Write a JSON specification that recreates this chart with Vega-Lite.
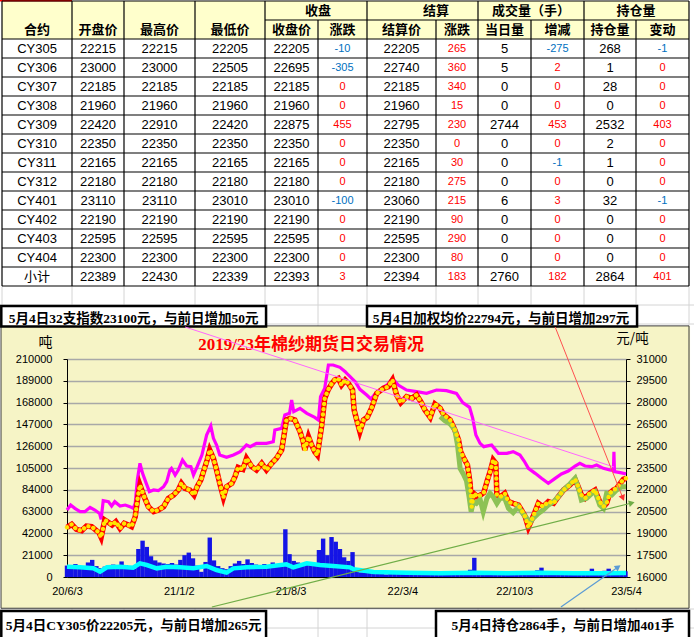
{
"$schema":"https://vega.github.io/schema/vega-lite/v6.json",
"width":559,"height":218,
"autosize":{"type":"none"},
"padding":{"left":67,"top":359,"right":68,"bottom":60},
"background":"#F6F4C6",
"config":{"view":{"stroke":null}},
"datasets":{
"idx":[{"date":"2020-06-03","p":20608},{"date":"2020-06-10","p":20952},{"date":"2020-06-18","p":20723},{"date":"2020-06-28","p":20494},{"date":"2020-07-07","p":20494},{"date":"2020-07-17","p":20792},{"date":"2020-07-26","p":20608},{"date":"2020-08-04","p":20379},{"date":"2020-08-07","p":19966},{"date":"2020-08-11","p":21251},{"date":"2020-08-21","p":21182},{"date":"2020-08-27","p":20884},{"date":"2020-09-02","p":21182},{"date":"2020-09-12","p":20884},{"date":"2020-09-22","p":20952},{"date":"2020-10-01","p":20838},{"date":"2020-10-07","p":20723},{"date":"2020-10-11","p":21067},{"date":"2020-10-15","p":22673},{"date":"2020-10-20","p":23820},{"date":"2020-10-25","p":23132},{"date":"2020-11-01","p":22444},{"date":"2020-11-07","p":21870},{"date":"2020-11-15","p":21985},{"date":"2020-11-24","p":21939},{"date":"2020-12-04","p":22214},{"date":"2020-12-10","p":22558},{"date":"2020-12-16","p":23361},{"date":"2020-12-19","p":23476},{"date":"2020-12-26","p":23017},{"date":"2021-01-01","p":23361},{"date":"2021-01-09","p":24050},{"date":"2021-01-17","p":23637},{"date":"2021-01-25","p":23591},{"date":"2021-01-30","p":23017},{"date":"2021-02-06","p":23591},{"date":"2021-02-15","p":24394},{"date":"2021-02-24","p":25770},{"date":"2021-03-04","p":26389},{"date":"2021-03-09","p":25540},{"date":"2021-03-15","p":25082},{"date":"2021-03-21","p":24394},{"date":"2021-04-03","p":24233},{"date":"2021-04-16","p":24394},{"date":"2021-04-29","p":24623},{"date":"2021-05-11","p":25082},{"date":"2021-05-18","p":24967},{"date":"2021-05-30","p":25197},{"date":"2021-06-18","p":25197},{"date":"2021-07-01","p":25311},{"date":"2021-07-04","p":26114},{"date":"2021-07-17","p":26229},{"date":"2021-07-23","p":27146},{"date":"2021-08-01","p":27261},{"date":"2021-08-05","p":28179},{"date":"2021-08-09","p":27376},{"date":"2021-08-21","p":27605},{"date":"2021-09-03","p":27261},{"date":"2021-09-18","p":26986},{"date":"2021-09-25","p":26802},{"date":"2021-09-29","p":28408},{"date":"2021-10-07","p":28982},{"date":"2021-10-14","p":30587},{"date":"2021-10-23","p":30587},{"date":"2021-11-05","p":30427},{"date":"2021-11-15","p":30129},{"date":"2021-11-21","p":29899},{"date":"2021-12-04","p":29440},{"date":"2021-12-13","p":28913},{"date":"2021-12-26","p":28523},{"date":"2022-01-03","p":28247},{"date":"2022-01-11","p":28592},{"date":"2022-01-24","p":28982},{"date":"2022-02-05","p":29280},{"date":"2022-02-13","p":29670},{"date":"2022-02-24","p":29211},{"date":"2022-03-12","p":28867},{"date":"2022-03-31","p":28752},{"date":"2022-04-19","p":28637},{"date":"2022-05-08","p":28867},{"date":"2022-05-27","p":28821},{"date":"2022-06-15","p":28637},{"date":"2022-06-27","p":27995},{"date":"2022-07-10","p":27674},{"date":"2022-07-16","p":26917},{"date":"2022-07-22","p":25770},{"date":"2022-07-30","p":25196},{"date":"2022-08-06","p":24967},{"date":"2022-08-21","p":25082},{"date":"2022-09-03","p":24508},{"date":"2022-09-19","p":24508},{"date":"2022-10-01","p":24623},{"date":"2022-10-14","p":24394},{"date":"2022-10-22","p":23981},{"date":"2022-10-30","p":23476},{"date":"2022-11-12","p":23132},{"date":"2022-11-24","p":22788},{"date":"2022-12-07","p":22444},{"date":"2022-12-20","p":22788},{"date":"2023-01-01","p":23086},{"date":"2023-01-14","p":23293},{"date":"2023-01-27","p":23636},{"date":"2023-02-05","p":23820},{"date":"2023-02-15","p":23636},{"date":"2023-02-28","p":23591},{"date":"2023-03-09","p":23706},{"date":"2023-03-22","p":23476},{"date":"2023-04-03","p":23361},{"date":"2023-04-10","p":23315},{"date":"2023-04-11","p":24623},{"date":"2023-04-12","p":23247},{"date":"2023-04-23","p":23178},{"date":"2023-05-04","p":23100}],
"px":[{"date":"2020-06-03","p":19416},{"date":"2020-06-12","p":19622},{"date":"2020-06-21","p":19278},{"date":"2020-07-01","p":19186},{"date":"2020-07-10","p":19507},{"date":"2020-07-20","p":19462},{"date":"2020-07-28","p":19232},{"date":"2020-08-03","p":19049},{"date":"2020-08-07","p":18728},{"date":"2020-08-14","p":19920},{"date":"2020-08-22","p":19737},{"date":"2020-08-28","p":19576},{"date":"2020-09-04","p":19805},{"date":"2020-09-12","p":19347},{"date":"2020-09-20","p":19691},{"date":"2020-09-28","p":19576},{"date":"2020-10-04","p":19462},{"date":"2020-10-11","p":20150},{"date":"2020-10-16","p":21526},{"date":"2020-10-20","p":22329},{"date":"2020-10-28","p":21526},{"date":"2020-11-05","p":20838},{"date":"2020-11-15","p":20494},{"date":"2020-11-24","p":20608},{"date":"2020-12-04","p":20838},{"date":"2020-12-13","p":21411},{"date":"2020-12-23","p":21641},{"date":"2021-01-01","p":21985},{"date":"2021-01-07","p":22444},{"date":"2021-01-14","p":22100},{"date":"2021-01-23","p":21985},{"date":"2021-01-31","p":21641},{"date":"2021-02-06","p":22214},{"date":"2021-02-13","p":22673},{"date":"2021-02-19","p":23361},{"date":"2021-02-25","p":24050},{"date":"2021-03-02","p":24738},{"date":"2021-03-09","p":24164},{"date":"2021-03-15","p":23361},{"date":"2021-03-21","p":22444},{"date":"2021-03-28","p":21480},{"date":"2021-04-03","p":22214},{"date":"2021-04-13","p":22444},{"date":"2021-04-19","p":22902},{"date":"2021-04-25","p":23545},{"date":"2021-05-04","p":23407},{"date":"2021-05-11","p":24164},{"date":"2021-05-21","p":23591},{"date":"2021-05-30","p":23361},{"date":"2021-06-09","p":23820},{"date":"2021-06-18","p":23361},{"date":"2021-06-28","p":23820},{"date":"2021-07-07","p":24164},{"date":"2021-07-17","p":24738},{"date":"2021-07-21","p":25655},{"date":"2021-07-26","p":26802},{"date":"2021-08-02","p":26917},{"date":"2021-08-11","p":26802},{"date":"2021-08-21","p":25999},{"date":"2021-08-27","p":25311},{"date":"2021-08-30","p":24738},{"date":"2021-09-06","p":25655},{"date":"2021-09-12","p":25082},{"date":"2021-09-18","p":24623},{"date":"2021-09-23","p":24394},{"date":"2021-10-01","p":26343},{"date":"2021-10-07","p":28293},{"date":"2021-10-14","p":28913},{"date":"2021-10-20","p":29280},{"date":"2021-10-26","p":29555},{"date":"2021-11-02","p":29670},{"date":"2021-11-08","p":29211},{"date":"2021-11-15","p":29555},{"date":"2021-11-21","p":29326},{"date":"2021-11-29","p":28867},{"date":"2021-12-02","p":27490},{"date":"2021-12-07","p":26802},{"date":"2021-12-13","p":25999},{"date":"2021-12-20","p":26802},{"date":"2021-12-27","p":26986},{"date":"2022-01-04","p":27605},{"date":"2022-01-14","p":28637},{"date":"2022-01-27","p":28982},{"date":"2022-02-05","p":29097},{"date":"2022-02-13","p":29555},{"date":"2022-02-21","p":28523},{"date":"2022-03-01","p":27995},{"date":"2022-03-12","p":28408},{"date":"2022-03-22","p":28293},{"date":"2022-03-31","p":28523},{"date":"2022-04-08","p":28064},{"date":"2022-04-16","p":27490},{"date":"2022-04-26","p":26986},{"date":"2022-05-05","p":27903},{"date":"2022-05-15","p":27605},{"date":"2022-05-22","p":27146},{"date":"2022-06-03","p":26802},{"date":"2022-06-12","p":26114},{"date":"2022-06-19","p":25426},{"date":"2022-06-23","p":24623},{"date":"2022-06-29","p":24164},{"date":"2022-07-06","p":23705},{"date":"2022-07-11","p":22444},{"date":"2022-07-14","p":20838},{"date":"2022-07-18","p":21755},{"date":"2022-07-25","p":21526},{"date":"2022-07-31","p":21641},{"date":"2022-08-06","p":21801},{"date":"2022-08-13","p":22673},{"date":"2022-08-19","p":23361},{"date":"2022-08-24","p":24050},{"date":"2022-08-29","p":23820},{"date":"2022-08-31","p":21641},{"date":"2022-09-07","p":21526},{"date":"2022-09-15","p":21755},{"date":"2022-09-22","p":21182},{"date":"2022-10-01","p":21067},{"date":"2022-10-11","p":20952},{"date":"2022-10-17","p":20608},{"date":"2022-10-24","p":20150},{"date":"2022-10-30","p":19416},{"date":"2022-11-08","p":20150},{"date":"2022-11-18","p":21067},{"date":"2022-11-27","p":20838},{"date":"2022-12-07","p":21182},{"date":"2022-12-17","p":21067},{"date":"2022-12-26","p":21526},{"date":"2023-01-05","p":21985},{"date":"2023-01-17","p":22329},{"date":"2023-01-27","p":22719},{"date":"2023-02-02","p":22214},{"date":"2023-02-08","p":21641},{"date":"2023-02-15","p":21411},{"date":"2023-02-24","p":21755},{"date":"2023-03-06","p":21985},{"date":"2023-03-15","p":21182},{"date":"2023-03-22","p":20838},{"date":"2023-03-28","p":21067},{"date":"2023-04-03","p":21755},{"date":"2023-04-10","p":21985},{"date":"2023-04-16","p":22100},{"date":"2023-04-23","p":22444},{"date":"2023-04-29","p":22719},{"date":"2023-05-04","p":22794}],
"cy":[{"date":"2022-05-15","p":27032},{"date":"2022-05-24","p":26756},{"date":"2022-06-03","p":26527},{"date":"2022-06-12","p":26114},{"date":"2022-06-17","p":25082},{"date":"2022-06-22","p":23476},{"date":"2022-06-28","p":23086},{"date":"2022-07-04","p":22627},{"date":"2022-07-09","p":21526},{"date":"2022-07-13","p":20494},{"date":"2022-07-17","p":21182},{"date":"2022-07-23","p":21067},{"date":"2022-07-30","p":21342},{"date":"2022-08-05","p":20494},{"date":"2022-08-12","p":21411},{"date":"2022-08-18","p":21755},{"date":"2022-08-24","p":21526},{"date":"2022-08-31","p":21067},{"date":"2022-09-06","p":21411},{"date":"2022-09-15","p":21411},{"date":"2022-09-22","p":20723},{"date":"2022-10-01","p":20425},{"date":"2022-10-11","p":20838},{"date":"2022-10-17","p":20494},{"date":"2022-10-27","p":20035},{"date":"2022-11-02","p":19737},{"date":"2022-11-08","p":20035},{"date":"2022-11-18","p":20379},{"date":"2022-11-27","p":20608},{"date":"2022-12-07","p":20952},{"date":"2022-12-17","p":21182},{"date":"2022-12-26","p":21526},{"date":"2023-01-05","p":21985},{"date":"2023-01-17","p":22398},{"date":"2023-01-27","p":22788},{"date":"2023-02-02","p":22169},{"date":"2023-02-08","p":21297},{"date":"2023-02-18","p":21411},{"date":"2023-02-28","p":21755},{"date":"2023-03-06","p":21870},{"date":"2023-03-15","p":20952},{"date":"2023-03-22","p":20723},{"date":"2023-03-28","p":21755},{"date":"2023-04-07","p":21641},{"date":"2023-04-16","p":21985},{"date":"2023-04-26","p":22214},{"date":"2023-05-04","p":22205}],
"vol":[{"date":"2020-06-03","v":11000},{"date":"2020-06-11","v":10000},{"date":"2020-06-19","v":12500},{"date":"2020-06-27","v":9000},{"date":"2020-07-05","v":9500},{"date":"2020-07-13","v":14000},{"date":"2020-07-21","v":16500},{"date":"2020-07-29","v":10500},{"date":"2020-08-06","v":8500},{"date":"2020-08-14","v":10000},{"date":"2020-08-22","v":11500},{"date":"2020-08-30","v":12000},{"date":"2020-09-07","v":11000},{"date":"2020-09-15","v":15000},{"date":"2020-09-23","v":11500},{"date":"2020-10-01","v":9500},{"date":"2020-10-09","v":8000},{"date":"2020-10-17","v":27000},{"date":"2020-10-25","v":35000},{"date":"2020-11-02","v":29000},{"date":"2020-11-10","v":20000},{"date":"2020-11-18","v":16000},{"date":"2020-11-26","v":14000},{"date":"2020-12-04","v":13000},{"date":"2020-12-12","v":12500},{"date":"2020-12-20","v":13500},{"date":"2020-12-28","v":12000},{"date":"2021-01-05","v":16500},{"date":"2021-01-13","v":21000},{"date":"2021-01-21","v":23500},{"date":"2021-01-29","v":18000},{"date":"2021-02-06","v":11000},{"date":"2021-02-14","v":5000},{"date":"2021-02-22","v":14500},{"date":"2021-03-02","v":38000},{"date":"2021-03-10","v":16000},{"date":"2021-03-18","v":10500},{"date":"2021-03-26","v":8500},{"date":"2021-04-03","v":7500},{"date":"2021-04-11","v":10500},{"date":"2021-04-19","v":13000},{"date":"2021-04-27","v":15500},{"date":"2021-05-05","v":12500},{"date":"2021-05-13","v":17000},{"date":"2021-05-21","v":13500},{"date":"2021-05-29","v":12000},{"date":"2021-06-06","v":11500},{"date":"2021-06-14","v":12500},{"date":"2021-06-22","v":11500},{"date":"2021-06-30","v":14000},{"date":"2021-07-08","v":12500},{"date":"2021-07-16","v":13000},{"date":"2021-07-24","v":46000},{"date":"2021-08-01","v":22000},{"date":"2021-08-09","v":15500},{"date":"2021-08-17","v":14000},{"date":"2021-08-25","v":12500},{"date":"2021-09-02","v":14500},{"date":"2021-09-10","v":13000},{"date":"2021-09-18","v":11500},{"date":"2021-09-26","v":26000},{"date":"2021-10-04","v":37000},{"date":"2021-10-12","v":21000},{"date":"2021-10-20","v":38500},{"date":"2021-10-28","v":34000},{"date":"2021-11-05","v":27000},{"date":"2021-11-13","v":19000},{"date":"2021-11-21","v":15500},{"date":"2021-11-29","v":24000},{"date":"2021-12-07","v":6000},{"date":"2021-12-15","v":4500},{"date":"2021-12-23","v":4000},{"date":"2021-12-31","v":4500},{"date":"2022-01-08","v":3500},{"date":"2022-01-16","v":4000},{"date":"2022-01-24","v":3000},{"date":"2022-02-01","v":2500},{"date":"2022-02-09","v":3500},{"date":"2022-02-17","v":4500},{"date":"2022-02-25","v":4000},{"date":"2022-03-05","v":3500},{"date":"2022-03-13","v":4000},{"date":"2022-03-21","v":3500},{"date":"2022-03-29","v":3000},{"date":"2022-04-06","v":3500},{"date":"2022-04-14","v":4000},{"date":"2022-04-22","v":3500},{"date":"2022-04-30","v":3000},{"date":"2022-05-08","v":3500},{"date":"2022-05-16","v":4000},{"date":"2022-05-24","v":4500},{"date":"2022-06-01","v":4000},{"date":"2022-06-09","v":3500},{"date":"2022-06-17","v":4500},{"date":"2022-06-25","v":5000},{"date":"2022-07-03","v":4000},{"date":"2022-07-11","v":7000},{"date":"2022-07-19","v":18500},{"date":"2022-07-27","v":5500},{"date":"2022-08-04","v":4500},{"date":"2022-08-12","v":5000},{"date":"2022-08-20","v":4500},{"date":"2022-08-28","v":4000},{"date":"2022-09-05","v":5000},{"date":"2022-09-13","v":4500},{"date":"2022-09-21","v":4000},{"date":"2022-09-29","v":3500},{"date":"2022-10-07","v":4000},{"date":"2022-10-15","v":4500},{"date":"2022-10-23","v":4000},{"date":"2022-10-31","v":5000},{"date":"2022-11-08","v":4500},{"date":"2022-11-16","v":6500},{"date":"2022-11-24","v":9000},{"date":"2022-12-02","v":5000},{"date":"2022-12-10","v":4000},{"date":"2022-12-18","v":3500},{"date":"2022-12-26","v":3000},{"date":"2023-01-03","v":3500},{"date":"2023-01-11","v":4000},{"date":"2023-01-19","v":4500},{"date":"2023-01-27","v":4000},{"date":"2023-02-04","v":5000},{"date":"2023-02-12","v":4500},{"date":"2023-02-20","v":5500},{"date":"2023-02-28","v":8000},{"date":"2023-03-08","v":5000},{"date":"2023-03-16","v":4500},{"date":"2023-03-24","v":6000},{"date":"2023-04-01","v":8000},{"date":"2023-04-09","v":5500},{"date":"2023-04-17","v":5000},{"date":"2023-04-25","v":4500},{"date":"2023-05-03","v":5500}],
"oi":[{"date":"2020-06-03","v":9954},{"date":"2020-06-28","v":9312},{"date":"2020-07-23","v":8348},{"date":"2020-08-05","v":5137},{"date":"2020-08-18","v":9312},{"date":"2020-09-12","v":9954},{"date":"2020-10-07","v":8991},{"date":"2020-10-20","v":13165},{"date":"2020-11-02","v":11560},{"date":"2020-11-21","v":8348},{"date":"2020-12-10","v":9954},{"date":"2021-01-04","v":9312},{"date":"2021-01-30","v":8348},{"date":"2021-02-24","v":10596},{"date":"2021-03-15","v":6743},{"date":"2021-04-03","v":4174},{"date":"2021-04-16","v":8348},{"date":"2021-05-11","v":9312},{"date":"2021-06-18","v":9954},{"date":"2021-07-26","v":12201},{"date":"2021-08-08","v":9312},{"date":"2021-09-03","v":13165},{"date":"2021-09-28","v":11560},{"date":"2021-10-23","v":10596},{"date":"2021-11-24","v":9312},{"date":"2021-12-01","v":7386},{"date":"2022-01-08","v":4817},{"date":"2022-03-12","v":4174},{"date":"2022-05-15","v":3532},{"date":"2022-07-17","v":4174},{"date":"2022-09-19","v":3532},{"date":"2022-11-21","v":4174},{"date":"2023-01-24","v":3532},{"date":"2023-03-28","v":3532},{"date":"2023-05-04","v":3800}],
"pinkl":[{"date":"2021-01-14","p":33202},{"date":"2023-04-11","p":23569}],
"redl":[{"date":"2022-12-20","p":33202},{"date":"2023-04-28","p":21436}],
"greenl":[{"date":"2021-03-06","p":13936},{"date":"2023-05-15","p":21092}],
"bluel":[{"date":"2022-12-31","p":13936},{"date":"2023-04-19","p":16688}],
"tbl":[{"row":3,"name":"CY305","open":22215,"high":22215,"low":22205,"close":22205,"chg":-10,"settle":22205,"schg":265,"vol":5,"vchg":-275,"oi":268,"oichg":-1},{"row":4,"name":"CY306","open":23000,"high":23000,"low":22505,"close":22695,"chg":-305,"settle":22740,"schg":360,"vol":5,"vchg":2,"oi":1,"oichg":0},{"row":5,"name":"CY307","open":22185,"high":22185,"low":22185,"close":22185,"chg":0,"settle":22185,"schg":340,"vol":0,"vchg":0,"oi":28,"oichg":0},{"row":6,"name":"CY308","open":21960,"high":21960,"low":21960,"close":21960,"chg":0,"settle":21960,"schg":15,"vol":0,"vchg":0,"oi":0,"oichg":0},{"row":7,"name":"CY309","open":22420,"high":22910,"low":22420,"close":22875,"chg":455,"settle":22795,"schg":230,"vol":2744,"vchg":453,"oi":2532,"oichg":403},{"row":8,"name":"CY310","open":22350,"high":22350,"low":22350,"close":22350,"chg":0,"settle":22350,"schg":0,"vol":0,"vchg":0,"oi":2,"oichg":0},{"row":9,"name":"CY311","open":22165,"high":22165,"low":22165,"close":22165,"chg":0,"settle":22165,"schg":30,"vol":0,"vchg":-1,"oi":1,"oichg":0},{"row":10,"name":"CY312","open":22180,"high":22180,"low":22180,"close":22180,"chg":0,"settle":22180,"schg":275,"vol":0,"vchg":0,"oi":0,"oichg":0},{"row":11,"name":"CY401","open":23110,"high":23110,"low":23010,"close":23010,"chg":-100,"settle":23060,"schg":215,"vol":6,"vchg":3,"oi":32,"oichg":-1},{"row":12,"name":"CY402","open":22190,"high":22190,"low":22190,"close":22190,"chg":0,"settle":22190,"schg":90,"vol":0,"vchg":0,"oi":0,"oichg":0},{"row":13,"name":"CY403","open":22595,"high":22595,"low":22595,"close":22595,"chg":0,"settle":22595,"schg":290,"vol":0,"vchg":0,"oi":0,"oichg":0},{"row":14,"name":"CY404","open":22300,"high":22300,"low":22300,"close":22300,"chg":0,"settle":22300,"schg":80,"vol":0,"vchg":0,"oi":0,"oichg":0},{"row":15,"name":"小计","open":22389,"high":22430,"low":22339,"close":22393,"chg":3,"settle":22394,"schg":183,"vol":2760,"vchg":182,"oi":2864,"oichg":401}],
"hdr":[{"t":"合约","col":1,"row":2},{"t":"开盘价","col":2,"row":2},{"t":"最高价","col":3,"row":2},{"t":"最低价","col":4,"row":2},{"t":"收盘","col":5.5,"row":1},{"t":"结算","col":7.5,"row":1},{"t":"成交量（手）","col":9.5,"row":1},{"t":"持仓量","col":11.5,"row":1},{"t":"收盘价","col":5,"row":2},{"t":"涨跌","col":6,"row":2},{"t":"结算价","col":7,"row":2},{"t":"涨跌","col":8,"row":2},{"t":"当日量","col":9,"row":2},{"t":"增减","col":10,"row":2},{"t":"持仓量","col":11,"row":2},{"t":"变动","col":12,"row":2}],
"tlines":[{"x0":0.5,"x1":12.5,"y0":0.5,"y1":0.5},{"x0":4.5,"x1":12.5,"y0":1.5,"y1":1.5},{"x0":0.5,"x1":12.5,"y0":2.5,"y1":2.5},{"x0":0.5,"x1":12.5,"y0":3.5,"y1":3.5},{"x0":0.5,"x1":12.5,"y0":4.5,"y1":4.5},{"x0":0.5,"x1":12.5,"y0":5.5,"y1":5.5},{"x0":0.5,"x1":12.5,"y0":6.5,"y1":6.5},{"x0":0.5,"x1":12.5,"y0":7.5,"y1":7.5},{"x0":0.5,"x1":12.5,"y0":8.5,"y1":8.5},{"x0":0.5,"x1":12.5,"y0":9.5,"y1":9.5},{"x0":0.5,"x1":12.5,"y0":10.5,"y1":10.5},{"x0":0.5,"x1":12.5,"y0":11.5,"y1":11.5},{"x0":0.5,"x1":12.5,"y0":12.5,"y1":12.5},{"x0":0.5,"x1":12.5,"y0":13.5,"y1":13.5},{"x0":0.5,"x1":12.5,"y0":14.5,"y1":14.5},{"x0":0.5,"x1":12.5,"y0":15.5,"y1":15.5},{"x0":0.5,"x1":0.5,"y0":0.5,"y1":15.5},{"x0":1.5,"x1":1.5,"y0":0.5,"y1":15.5},{"x0":2.5,"x1":2.5,"y0":0.5,"y1":15.5},{"x0":3.5,"x1":3.5,"y0":0.5,"y1":15.5},{"x0":4.5,"x1":4.5,"y0":0.5,"y1":15.5},{"x0":6.5,"x1":6.5,"y0":0.5,"y1":15.5},{"x0":8.5,"x1":8.5,"y0":0.5,"y1":15.5},{"x0":10.5,"x1":10.5,"y0":0.5,"y1":15.5},{"x0":12.5,"x1":12.5,"y0":0.5,"y1":15.5},{"x0":5.5,"x1":5.5,"y0":1.5,"y1":15.5},{"x0":7.5,"x1":7.5,"y0":1.5,"y1":15.5},{"x0":9.5,"x1":9.5,"y0":1.5,"y1":15.5},{"x0":11.5,"x1":11.5,"y0":1.5,"y1":15.5}],
"cedges":[{"e":0.5},{"e":1.5},{"e":2.5},{"e":3.5},{"e":4.5},{"e":5.5},{"e":6.5},{"e":7.5},{"e":8.5},{"e":9.5},{"e":10.5},{"e":11.5},{"e":12.5}],
"redges":[{"e":16.5},{"e":17.5},{"e":32.5},{"e":33.5}]
},
"layer":[
{"layer":[
{"data":{"values":[{}]},"mark":{"type":"rect","color":"#FFFFFF"},"encoding":{"x":{"datum":-1,"type":"quantitative","scale":{"type":"linear","domain":[0.5,1.5,2.5,3.5,4.5,5.5,6.5,7.5,8.5,9.5,10.5,11.5,12.5],"range":[-65,5,57,128,198,251,300,369,411,464,517,569,622],"nice":false,"zero":false},"axis":null},"x2":{"datum":14},"y":{"datum":-1,"type":"quantitative","scale":{"type":"linear","domain":[0,10],"range":[-367.5,-177.5],"nice":false,"zero":false},"axis":null},"y2":{"datum":17.6}}},
{"data":{"values":[{}]},"mark":{"type":"rect","color":"#FFFFFF"},"encoding":{"x":{"datum":-1,"type":"quantitative","axis":null},"x2":{"datum":14},"y":{"datum":32.46,"type":"quantitative","axis":null},"y2":{"datum":36}}},
{"data":{"values":[{}]},"mark":{"type":"rect","color":"#FFFFFF"},"encoding":{"x":{"datum":-1,"type":"quantitative","axis":null},"x2":{"datum":0.486},"y":{"datum":17,"type":"quantitative","axis":null},"y2":{"datum":33}}},
{"data":{"values":[{}]},"mark":{"type":"rect","color":"#FFFFFF"},"encoding":{"x":{"datum":12.52,"type":"quantitative","axis":null},"x2":{"datum":14},"y":{"datum":17,"type":"quantitative","axis":null},"y2":{"datum":33}}},
{"data":{"values":[{}]},"mark":{"type":"rect","color":"#FFFFCC"},"encoding":{"x":{"datum":0.5,"type":"quantitative","axis":null},"x2":{"datum":12.5},"y":{"datum":0.5,"type":"quantitative","axis":null},"y2":{"datum":2.5}}},
{"data":{"name":"cedges"},"mark":{"type":"rule","color":"#D4D4D4","strokeWidth":1},"encoding":{"x":{"field":"e","type":"quantitative","axis":null},"y":{"datum":15.5,"type":"quantitative","axis":null},"y2":{"datum":17.6}}},
{"data":{"name":"cedges"},"mark":{"type":"rule","color":"#D4D4D4","strokeWidth":1},"encoding":{"x":{"field":"e","type":"quantitative","axis":null},"y":{"datum":32.46,"type":"quantitative","axis":null},"y2":{"datum":34}}},
{"data":{"name":"redges"},"mark":{"type":"rule","color":"#D4D4D4","strokeWidth":1},"encoding":{"y":{"field":"e","type":"quantitative","axis":null},"x":{"datum":-1,"type":"quantitative","axis":null},"x2":{"datum":14}}},
{"data":{"values":[{}]},"mark":{"type":"rule","color":"#FF0000","strokeWidth":2},"encoding":{"x":{"datum":0.45,"type":"quantitative","axis":null},"x2":{"datum":1.5},"y":{"datum":0.47,"type":"quantitative","axis":null}}},
{"data":{"name":"tlines"},"mark":{"type":"rule","color":"#000000","strokeWidth":1.2},"encoding":{"x":{"field":"x0","type":"quantitative","axis":null},"x2":{"field":"x1"},"y":{"field":"y0","type":"quantitative","axis":null},"y2":{"field":"y1"}}},
{"data":{"name":"hdr"},"mark":{"type":"text","font":"Noto Sans CJK SC","fontSize":13,"fontWeight":"bold","color":"#000000","align":"center","baseline":"middle"},"encoding":{"x":{"field":"col","type":"quantitative","axis":null},"y":{"field":"row","type":"quantitative","axis":null},"text":{"field":"t","type":"nominal"}}},
{"data":{"name":"tbl"},"transform":[{"fold":["name","open","high","low","close","chg","settle","schg","vol","vchg","oi","oichg"],"as":["key","val"]},{"lookup":"key","from":{"data":{"values":[{"key":"name","col":1},{"key":"open","col":2},{"key":"high","col":3},{"key":"low","col":4},{"key":"close","col":5},{"key":"chg","col":6},{"key":"settle","col":7},{"key":"schg","col":8},{"key":"vol","col":9},{"key":"vchg","col":10},{"key":"oi","col":11},{"key":"oichg","col":12}]},"key":"key","fields":["col"]}}],"mark":{"type":"text","font":"Liberation Sans, Noto Sans CJK SC","align":"center","baseline":"middle"},"encoding":{"x":{"field":"col","type":"quantitative","axis":null},"y":{"field":"row","type":"quantitative","axis":null},"text":{"field":"val","type":"nominal"},"color":{"condition":[{"test":"(datum.key=='chg'||datum.key=='schg'||datum.key=='vchg'||datum.key=='oichg')&&datum.val<0","value":"#0070C0"},{"test":"datum.key=='chg'||datum.key=='schg'||datum.key=='vchg'||datum.key=='oichg'","value":"#FF0000"}],"value":"#000000"},"size":{"condition":{"test":"datum.key=='chg'||datum.key=='schg'||datum.key=='vchg'||datum.key=='oichg'","value":11},"value":13}}},
{"data":{"values":[{}]},"mark":{"type":"rect","filled":false,"stroke":"#3C3C3C","strokeWidth":1},"encoding":{"x":{"datum":0.486,"type":"quantitative","axis":null},"x2":{"datum":12.5},"y":{"datum":17.6,"type":"quantitative","axis":null},"y2":{"datum":32.46}}},
{"data":{"values":[{}]},"mark":{"type":"rect","fill":"#FFFFFF","stroke":"#000000","strokeWidth":2.5},"encoding":{"x":{"datum":0.49,"type":"quantitative","axis":null},"x2":{"datum":4.52},"y":{"datum":16.55,"type":"quantitative","axis":null},"y2":{"datum":17.63}}},
{"data":{"values":[{}]},"mark":{"type":"rect","fill":"#FFFFFF","stroke":"#000000","strokeWidth":2.5},"encoding":{"x":{"datum":6.5,"type":"quantitative","axis":null},"x2":{"datum":11.52},"y":{"datum":16.55,"type":"quantitative","axis":null},"y2":{"datum":17.63}}},
{"data":{"values":[{}]},"mark":{"type":"rect","fill":"#FFFFFF","stroke":"#000000","strokeWidth":2.5},"encoding":{"x":{"datum":0.49,"type":"quantitative","axis":null},"x2":{"datum":4.52},"y":{"datum":32.6,"type":"quantitative","axis":null},"y2":{"datum":34.5}}},
{"data":{"values":[{}]},"mark":{"type":"rect","fill":"#FFFFFF","stroke":"#000000","strokeWidth":2.5},"encoding":{"x":{"datum":7.5,"type":"quantitative","axis":null},"x2":{"datum":12.5},"y":{"datum":32.6,"type":"quantitative","axis":null},"y2":{"datum":34.5}}},
{"data":{"values":[{}]},"mark":{"type":"text","text":"5月4日32支指数23100元，与前日增加50元","font":"Liberation Serif, Noto Sans CJK SC","fontSize":13.5,"fontWeight":"bold","color":"#000000","align":"center","baseline":"middle"},"encoding":{"x":{"datum":2.634,"type":"quantitative","axis":null},"y":{"datum":17.24,"type":"quantitative","axis":null}}},
{"data":{"values":[{}]},"mark":{"type":"text","text":"5月4日加权均价22794元，与前日增加297元","font":"Liberation Serif, Noto Sans CJK SC","fontSize":13.5,"fontWeight":"bold","color":"#000000","align":"center","baseline":"middle"},"encoding":{"x":{"datum":8.934,"type":"quantitative","axis":null},"y":{"datum":17.24,"type":"quantitative","axis":null}}},
{"data":{"values":[{}]},"mark":{"type":"text","text":"5月4日CY305价22205元，与前日增加265元","font":"Liberation Serif, Noto Sans CJK SC","fontSize":13.5,"fontWeight":"bold","color":"#000000","align":"center","baseline":"middle"},"encoding":{"x":{"datum":2.634,"type":"quantitative","axis":null},"y":{"datum":33.39,"type":"quantitative","axis":null}}},
{"data":{"values":[{}]},"mark":{"type":"text","text":"5月4日持仓2864手，与前日增加401手","font":"Liberation Serif, Noto Sans CJK SC","fontSize":13.5,"fontWeight":"bold","color":"#000000","align":"center","baseline":"middle"},"encoding":{"x":{"datum":10.1,"type":"quantitative","axis":null},"y":{"datum":33.39,"type":"quantitative","axis":null}}},
{"data":{"values":[{}]},"mark":{"type":"text","text":"2019/23年棉纱期货日交易情况","font":"Liberation Serif, Noto Sans CJK SC","fontSize":17,"fontWeight":"bold","color":"#FF0000","align":"center","baseline":"middle"},"encoding":{"x":{"datum":5.37,"type":"quantitative","axis":null},"y":{"datum":18.6,"type":"quantitative","axis":null}}}
]},
{"encoding":{"x":{"field":"date","type":"temporal","scale":{"type":"utc","domain":[{"year":2020,"month":6,"date":3,"utc":true},{"year":2023,"month":5,"date":4,"utc":true}],"nice":false,"padding":0},"axis":{"orient":"bottom","values":[{"year":2020,"month":6,"date":3,"utc":true},{"year":2021,"month":1,"date":2,"utc":true},{"year":2021,"month":8,"date":3,"utc":true},{"year":2022,"month":3,"date":4,"utc":true},{"year":2022,"month":10,"date":3,"utc":true},{"year":2023,"month":5,"date":4,"utc":true}],"format":"%y/%-m/%-d","labelFont":"Liberation Sans","labelFontSize":11,"labelColor":"#000000","labelFlush":false,"labelOverlap":false,"labelPadding":8,"ticks":false,"domainColor":"#000000","domainWidth":1,"grid":false,"title":null}}},
"layer":[
{"encoding":{"y":{"field":"v","type":"quantitative","scale":{"domain":[0,210000],"nice":false,"zero":true},"axis":{"orient":"left","values":[0,21000,42000,63000,84000,105000,126000,147000,168000,189000,210000],"format":"d","labelFont":"Liberation Sans","labelFontSize":11,"labelColor":"#000000","labelPadding":11,"tickSize":4,"tickColor":"#000000","domainColor":"#000000","grid":true,"gridColor":"#A8A8A8","gridWidth":1.5,"title":"吨","titleAngle":0,"titleX":-22,"titleY":-17,"titleFont":"Noto Sans CJK SC","titleFontSize":14,"titleFontWeight":"normal","titleAlign":"center","titleBaseline":"middle","titleColor":"#000000"}}},
"layer":[
{"data":{"name":"vol"},"mark":{"type":"bar","color":"#1414E6","size":4.4}},
{"data":{"name":"oi"},"mark":{"type":"line","color":"#00FFFF","strokeWidth":4.5}}
]},
{"encoding":{"y":{"field":"p","type":"quantitative","scale":{"domain":[16000,31000],"nice":false,"zero":false},"axis":{"orient":"right","values":[16000,17500,19000,20500,22000,23500,25000,26500,28000,29500,31000],"format":"d","labelFont":"Liberation Sans","labelFontSize":11,"labelColor":"#000000","labelPadding":6,"tickSize":4,"tickColor":"#000000","domainColor":"#000000","grid":false,"title":"元/吨","titleAngle":0,"titleX":6,"titleY":-21,"titleFont":"Noto Sans CJK SC","titleFontSize":13.5,"titleFontWeight":"normal","titleAlign":"center","titleBaseline":"middle","titleColor":"#000000"}}},
"layer":[
{"data":{"name":"idx"},"mark":{"type":"line","color":"#FF00FF","strokeWidth":3.2}},
{"data":{"name":"px"},"mark":{"type":"line","color":"#FF0000","strokeWidth":5.5}},
{"data":{"name":"cy"},"mark":{"type":"line","color":"#8DC255","strokeWidth":5}},
{"data":{"name":"px"},"mark":{"type":"line","color":"#FFE400","strokeWidth":4.3,"strokeDash":[0.1,5.2],"strokeCap":"round"}},
{"data":{"name":"pinkl"},"mark":{"type":"line","color":"#FF66FF","strokeWidth":1}},
{"data":{"name":"redl"},"mark":{"type":"line","color":"#FF5050","strokeWidth":1}},
{"data":{"name":"greenl"},"mark":{"type":"line","color":"#70AD47","strokeWidth":1.2}},
{"data":{"name":"bluel"},"mark":{"type":"line","color":"#5B9BD5","strokeWidth":1.2}},
{"data":{"values":[{"date":"2023-04-28","p":21436}]},"mark":{"type":"point","shape":"triangle-up","filled":true,"color":"#FF3030","opacity":1,"size":45,"angle":158}},
{"data":{"values":[{"date":"2023-05-15","p":21092}]},"mark":{"type":"point","shape":"triangle-up","filled":true,"color":"#70AD47","opacity":1,"size":45,"angle":76}},
{"data":{"values":[{"date":"2023-04-19","p":16688}]},"mark":{"type":"point","shape":"triangle-up","filled":true,"color":"#5B9BD5","opacity":1,"size":45,"angle":55}}
]}
],
"resolve":{"scale":{"y":"independent"}}}
],
"resolve":{"scale":{"x":"independent","y":"independent"}}
}
